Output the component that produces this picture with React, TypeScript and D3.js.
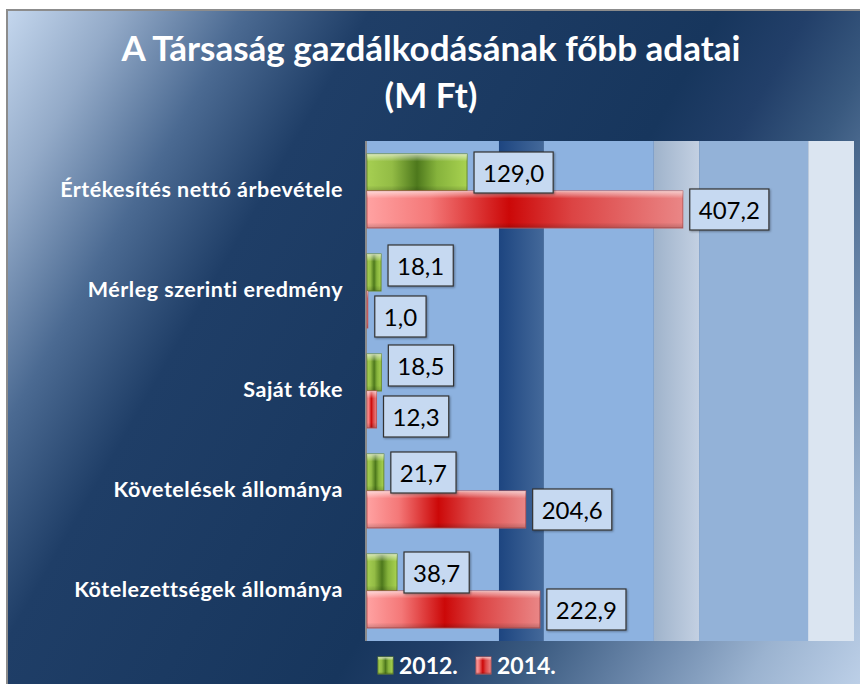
import React from "react";
import * as d3 from "d3";

const categories = [
  "Értékesítés nettó árbevétele",
  "Mérleg szerinti eredmény",
  "Saját tőke",
  "Követelések állománya",
  "Kötelezettségek állománya",
];
const seriesNames = ["2012.", "2014."];
const values2012 = [129.0, 18.1, 18.5, 21.7, 38.7];
const values2014 = [407.2, 1.0, 12.3, 204.6, 222.9];
const titleLines = ["A Társaság gazdálkodásának főbb adatai", "(M Ft)"];

const W = 860;
const H = 684;
const plot = { left: 367, right: 854, top: 141, bottom: 641 };
const FONT = "Lato, 'Open Sans', sans-serif";

function measure(text: string, font: string): number {
  const c = document.createElement("canvas").getContext("2d");
  if (!c) return text.length * 12;
  c.font = font;
  return c.measureText(text).width;
}

const fmt = (v: number) => v.toFixed(1).replace(".", ",");

export default function App() {
  const x = d3.scaleLinear().domain([0, 628]).range([plot.left, plot.right]);
  const y = d3
    .scaleBand<string>()
    .domain(categories)
    .range([plot.top, plot.bottom])
    .paddingInner(0.26)
    .paddingOuter(0.13);
  const sub = d3.scaleBand<string>().domain(seriesNames).range([0, y.bandwidth()]);
  const series = [values2012, values2014];
  const fills = ["url(#gGreen)", "url(#gRed)"];
  const strokes = ["#6a8c2c", "#c25a5a"];

  const pw = plot.right - plot.left;
  const bands = [
    { a: 0, b: 0.271, fill: "#8db2e0" },
    { a: 0.271, b: 0.363, fill: "url(#gDark)" },
    { a: 0.363, b: 0.589, fill: "#8db2e0" },
    { a: 0.589, b: 0.682, fill: "url(#gGrey)" },
    { a: 0.682, b: 0.906, fill: "#93b2d8" },
    { a: 0.906, b: 1, fill: "#dbe5f1" },
  ];

  const labelSize = 24;
  const labelFont = `${labelSize}px Lato`;
  const boxH = 41;
  const gapY = 10;

  const labels = categories.map((c, ci) => {
    const boxes = seriesNames.map((s, si) => {
      const v = series[si][ci];
      const text = fmt(v);
      const w = measure(text, labelFont) + 18;
      const cy = (y(c) ?? 0) + (sub(s) ?? 0) + sub.bandwidth() / 2;
      const bx = x(v) + 7;
      return { key: c + s, text, x: bx, w, cy };
    });
    const [a, b] = boxes;
    const overlapX = a.x < b.x + b.w && b.x < a.x + a.w;
    const need = boxH + gapY;
    if (overlapX && b.cy - a.cy < need) {
      const shift = (need - (b.cy - a.cy)) / 2;
      a.cy -= shift;
      b.cy += shift;
    }
    return boxes;
  });

  const ux = Math.cos(Math.PI / 6);
  const uy = Math.sin(Math.PI / 6);
  const len = W * ux + H * uy;

  return (
    <svg
      width={W}
      height={H}
      style={{ position: "absolute", left: 0, top: 0 }}
      xmlns="http://www.w3.org/2000/svg"
    >
      <defs>
        <linearGradient id="gBg" gradientUnits="userSpaceOnUse" x1={0} y1={0} x2={len * ux} y2={len * uy}>
          <stop offset="0" stopColor="#cadcf2" />
          <stop offset="0.1" stopColor="#93aac8" />
          <stop offset="0.2" stopColor="#4b6a92" />
          <stop offset="0.3" stopColor="#1f3e67" />
          <stop offset="0.58" stopColor="#17365d" />
          <stop offset="0.65" stopColor="#223f69" />
          <stop offset="0.72" stopColor="#39597f" />
          <stop offset="0.82" stopColor="#6c88ab" />
          <stop offset="0.91" stopColor="#9bb3d0" />
          <stop offset="1" stopColor="#bccfe7" />
        </linearGradient>
        <linearGradient id="gDark" x1="0" y1="0" x2="1" y2="0">
          <stop offset="0" stopColor="#1d4580" />
          <stop offset="1" stopColor="#44699a" />
        </linearGradient>
        <linearGradient id="gGrey" x1="0" y1="0" x2="1" y2="0">
          <stop offset="0" stopColor="#9fb3cb" />
          <stop offset="1" stopColor="#c3d0e2" />
        </linearGradient>
        <linearGradient id="gGreen" x1="0" y1="0" x2="1" y2="0">
          <stop offset="0" stopColor="#a6cf52" />
          <stop offset="0.25" stopColor="#93bc45" />
          <stop offset="0.5" stopColor="#4d781c" />
          <stop offset="0.7" stopColor="#86b33c" />
          <stop offset="1" stopColor="#a8d250" />
        </linearGradient>
        <linearGradient id="gRed" x1="0" y1="0" x2="1" y2="0">
          <stop offset="0" stopColor="#ffa2a2" />
          <stop offset="0.2" stopColor="#f47878" />
          <stop offset="0.45" stopColor="#cc0808" />
          <stop offset="0.65" stopColor="#dc4444" />
          <stop offset="1" stopColor="#ea8686" />
        </linearGradient>
        <linearGradient id="gBevel" x1="0" y1="0" x2="0" y2="1">
          <stop offset="0" stopColor="#ffffff" stopOpacity="0.6" />
          <stop offset="0.12" stopColor="#ffffff" stopOpacity="0.25" />
          <stop offset="0.2" stopColor="#ffffff" stopOpacity="0" />
          <stop offset="0.85" stopColor="#000000" stopOpacity="0" />
          <stop offset="1" stopColor="#000000" stopOpacity="0.18" />
        </linearGradient>
        <filter id="shadow" x="-20%" y="-20%" width="140%" height="140%">
          <feDropShadow dx="1" dy="1" stdDeviation="0.8" floodColor="#000" floodOpacity="0.35" />
        </filter>
      </defs>

      <rect x={0} y={0} width={W} height={H} fill="#ffffff" />
      <rect x={7} y={10} width={W} height={H} fill="url(#gBg)" stroke="#8c8c8c" strokeWidth={2} />

      {titleLines.map((t, i) => (
        <text
          key={t}
          x={431}
          y={61 + i * 47}
          textAnchor="middle"
          fill="#ffffff"
          fontFamily={FONT}
          fontWeight="bold"
          fontSize={35}
        >
          {t}
        </text>
      ))}

      {bands.map((b, i) => (
        <rect
          key={i}
          x={plot.left + b.a * pw}
          y={plot.top}
          width={(b.b - b.a) * pw}
          height={plot.bottom - plot.top}
          fill={b.fill}
        />
      ))}
      <line x1={plot.left - 1} x2={plot.left - 1} y1={plot.top} y2={plot.bottom} stroke="#8a8a8a" strokeWidth={2} />

      {categories.map((c) => (
        <text
          key={c}
          x={343}
          y={(y(c) ?? 0) + y.bandwidth() / 2 + 6}
          textAnchor="end"
          fill="#ffffff"
          fontFamily={FONT}
          fontWeight="bold"
          fontSize={21.5}
          letterSpacing={0.5}
        >
          {c}
        </text>
      ))}

      {categories.map((c, ci) =>
        seriesNames.map((s, si) => {
          const v = series[si][ci];
          const by = (y(c) ?? 0) + (sub(s) ?? 0);
          const bh = sub.bandwidth();
          const bw = x(v) - x(0);
          return (
            <g key={c + s}>
              <rect x={x(0)} y={by} width={bw} height={bh} fill={fills[si]} stroke={strokes[si]} strokeWidth={1} />
              <rect x={x(0)} y={by} width={bw} height={bh} fill="url(#gBevel)" />
            </g>
          );
        })
      )}

      {labels.flat().map((l) => (
        <g key={"l" + l.key}>
          <rect
            x={l.x}
            y={l.cy - boxH / 2}
            width={l.w}
            height={boxH}
            fill="#c6d9f1"
            stroke="#333333"
            strokeWidth={1.2}
            filter="url(#shadow)"
          />
          <text
            x={l.x + l.w / 2}
            y={l.cy + 9}
            textAnchor="middle"
            fontFamily={FONT}
            fontSize={labelSize}
            fill="#000000"
          >
            {l.text}
          </text>
        </g>
      ))}

      {seriesNames.map((s, si) => {
        const lx = si === 0 ? 378 : 476;
        return (
          <g key={"lg" + s}>
            <rect x={lx} y={657} width={15} height={17} fill={fills[si]} stroke={strokes[si]} strokeWidth={1} />
            <rect x={lx} y={657} width={15} height={17} fill="url(#gBevel)" />
            <text x={lx + 21} y={674} fill="#ffffff" fontFamily={FONT} fontWeight="bold" fontSize={23}>
              {s}
            </text>
          </g>
        );
      })}
    </svg>
  );
}
